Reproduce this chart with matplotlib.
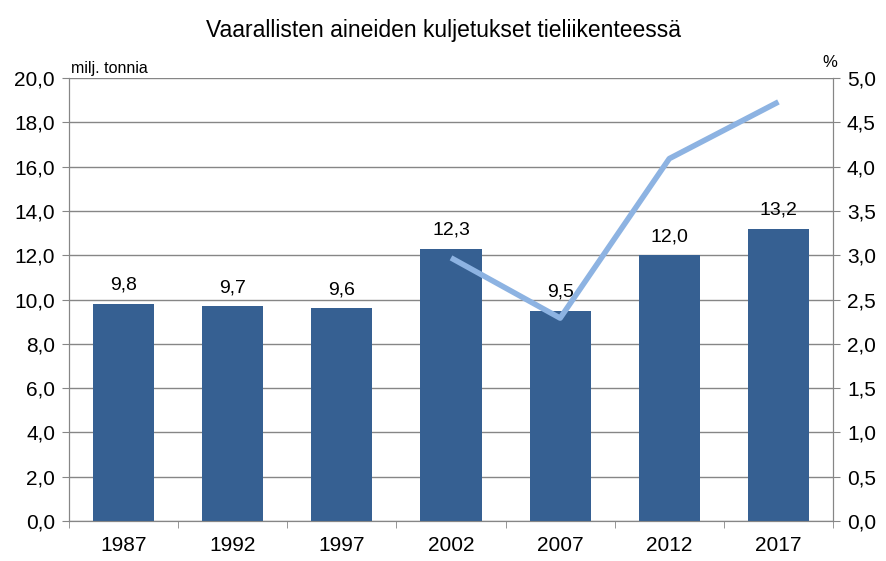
import matplotlib.pyplot as plt
from matplotlib.ticker import FuncFormatter, MultipleLocator

plt.rcParams['font.family'] = ['Liberation Sans', 'DejaVu Sans']

years = ["1987", "1992", "1997", "2002", "2007", "2012", "2017"]
tonnes = [9.8, 9.7, 9.6, 12.3, 9.5, 12.0, 13.2]
share_years = ["2002", "2007", "2012", "2017"]
share = [2.97, 2.29, 4.09, 4.73]

comma = FuncFormatter(lambda v, p: f"{v:.1f}".replace(".", ","))

fig = plt.figure(figsize=(8.86, 5.61), dpi=100)
ax = fig.add_axes([69 / 886, 40 / 561, (833 - 69) / 886, (521 - 78) / 561])
ax2 = ax.twinx()

x = list(range(len(years)))
ax.bar(x, tonnes, width=0.56, color="#366092", zorder=3)
for xi, v in zip(x, tonnes):
    ax.text(xi, v + 0.45, f"{v:.1f}".replace(".", ","), ha="center", va="bottom",
            fontsize=14)

xs = [years.index(y) for y in share_years]
ax2.plot(xs, share, color="#8DB3E2", linewidth=4, solid_capstyle="butt", zorder=4)

ax.set_xlim(-0.5, len(years) - 0.5)
ax.set_ylim(0, 20)
ax2.set_ylim(0, 5)
ax.yaxis.set_major_locator(MultipleLocator(2))
ax2.yaxis.set_major_locator(MultipleLocator(0.5))
ax.yaxis.set_major_formatter(comma)
ax2.yaxis.set_major_formatter(comma)

ax.set_xticks(x)
ax.set_xticklabels(years)
ax.set_xticks([i - 0.5 for i in range(len(years) + 1)], minor=True)
ax.tick_params(axis="x", which="major", length=0, labelsize=15, pad=11)
ax.tick_params(axis="x", which="minor", length=5, color="#868686")
ax.tick_params(axis="y", labelsize=15, length=5, color="#868686", pad=5)
ax2.tick_params(axis="y", labelsize=15, length=5, color="#868686", pad=5)

ax.grid(axis="y", color="#868686", linewidth=1, zorder=0)
ax.set_axisbelow(True)
for a in (ax, ax2):
    a.spines["top"].set_visible(False)
    for s in ("left", "right", "bottom"):
        a.spines[s].set_color("#868686")
ax2.set_zorder(ax.get_zorder() + 1)
ax2.patch.set_visible(False)

fig.text(69 / 886 + 0.002, 1 - 76 / 561, "milj. tonnia", fontsize=11.5, va="bottom")
fig.text(833 / 886 - 0.012, 1 - 70 / 561, "%", fontsize=12, va="bottom")
fig.text(0.5, 1 - 30 / 561, "Vaarallisten aineiden kuljetukset tieliikenteessä",
         ha="center", va="center", fontsize=16.5)

plt.savefig("out.png", dpi=100)
